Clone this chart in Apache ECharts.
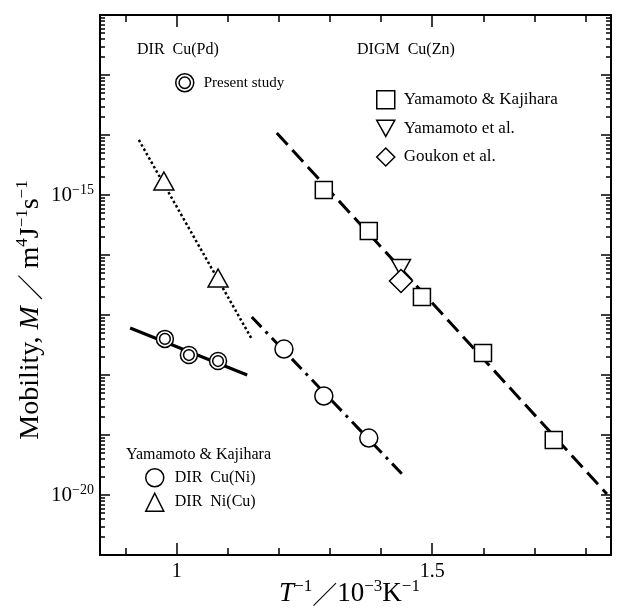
<!DOCTYPE html>
<html><head><meta charset="utf-8">
<script src="https://cdn.jsdelivr.net/npm/echarts@6/dist/echarts.min.js"></script>
<style>html,body{margin:0;padding:0;background:#fff}#c{width:633px;height:609px}</style>
</head><body><div id="c"></div>
<script>
// ---- data (x = T^-1 / 1e-3 K^-1, M = mobility / m^4 J^-1 s^-1) ----
const presentX = [0.977, 1.024, 1.081];
const presentM = [4.0e-18, 2.15e-18, 1.71e-18];
const niCuX = [0.975, 1.081];
const niCuM = [1.71e-15, 4.14e-17];
const cuNiX = [1.210, 1.288, 1.376];
const cuNiM = [2.71e-18, 4.47e-19, 8.9e-20];
const ykZnX = [1.288, 1.376, 1.480, 1.5995, 1.738];
const ykZnM = [1.21e-15, 2.51e-16, 2.0e-17, 2.33e-18, 8.26e-20];
const yetalX = [1.439];
const yetalM = [6.07e-17];
const goukonX = [1.439];
const goukonM = [3.69e-17];
// fitted lines (end points)
const fitPdX = [0.909, 1.138];
const fitPdM = [6.07e-18, 1.0e-18];
const fitNiCuX = [0.926, 1.147];
const fitNiCuM = [8.26e-15, 3.98e-18];
const fitCuNiX = [1.147, 1.443];
const fitCuNiM = [9.27e-18, 2.15e-20];
const fitZnX = [1.196, 1.842];
const fitZnM = [1.08e-14, 1.04e-20];
// ticks / labels
const xMajorTicks = [1, 1.5];
const xMinorTicks = [0.9, 1.1, 1.2, 1.3, 1.4, 1.6, 1.7, 1.8];
const xTickLabels = ['1', '1.5'];
const yLabelExps = [-15, -20];
const yDecadeMin = -21, yDecadeMax = -12;

const FONT = '"Liberation Serif","Times New Roman",serif';
const CJK = '"Noto Sans CJK JP","Liberation Serif",serif';

const toPts = (xs, ms) => xs.map((x, i) => [x, Math.log10(ms[i])]);
const yMinorTicks = [];
for (let n = yDecadeMin; n < yDecadeMax; n++) for (let k = 2; k <= 9; k++) yMinorTicks.push(n + Math.log10(k));

const axisLineS = {show: true, onZero: false, lineStyle: {color: '#000', width: 2}};
const tickS = (len, vals) => ({show: true, inside: true, length: len, customValues: vals, lineStyle: {color: '#000', width: 1.5}});
const titleRich = (fs) => ({
  it: {fontFamily: FONT, fontStyle: 'italic', fontSize: fs, lineHeight: fs + 5, color: '#000'},
  n: {fontFamily: FONT, fontSize: fs, lineHeight: fs + 5, color: '#000'},
  sl: {fontFamily: CJK, fontSize: fs - 2, lineHeight: fs + 5, color: '#000'},
  sup: {fontFamily: FONT, fontSize: Math.round(fs * 0.62), lineHeight: Math.round(fs * 0.62), verticalAlign: 'top', color: '#000'}
});

function xAx(pos, major, withLabel) {
  const a = {
    type: 'value', position: pos, min: 0.85, max: 1.85,
    axisLine: major ? axisLineS : {show: false},
    axisTick: tickS(major ? 12 : 7, major ? xMajorTicks : xMinorTicks),
    axisLabel: {show: false}, splitLine: {show: false}
  };
  if (withLabel) {
    a.axisLabel = {show: true, customValues: xMajorTicks, margin: 7, fontFamily: FONT, fontSize: 20, color: '#000',
      formatter: v => { const i = xMajorTicks.findIndex(t => Math.abs(t - v) < 1e-9); return i >= 0 ? xTickLabels[i] : ''; }};
    a.name = '{it|T}{sup|−1}{sl|／}{n|10}{sup|−3}{n|K}{sup|−1}';
    a.nameLocation = 'middle';
    a.nameGap = 23;
    a.nameMoveOverlap = false;
    a.nameTextStyle = {fontFamily: FONT, fontSize: 27, color: '#000', padding: [0, 12, 0, 0], rich: titleRich(27)};
  }
  return a;
}
function yAx(pos, major, withLabel) {
  const a = {
    type: 'value', position: pos, min: yDecadeMin, max: yDecadeMax,
    axisLine: major ? axisLineS : {show: false},
    axisTick: major ? {show: true, inside: true, length: 10, lineStyle: {color: '#000', width: 1.5}} : tickS(5, yMinorTicks),
    axisLabel: {show: false}, splitLine: {show: false}
  };
  if (major) a.interval = 1;
  if (withLabel) {
    a.axisLabel = {show: true, margin: 6, color: '#000',
      formatter: v => yLabelExps.includes(Math.round(v)) ? '{b|10}{s|−' + (-Math.round(v)) + '}' : '',
      rich: {b: {fontFamily: FONT, fontSize: 21, lineHeight: 23, color: '#000'},
             s: {fontFamily: FONT, fontSize: 14, lineHeight: 14, verticalAlign: 'top', color: '#000'}}};
    a.name = 'Mobility, {it|M}{sl| ／ }{n|m}{sup|4}{n|J}{sup|−1}{n|s}{sup|−1}';
    a.nameLocation = 'middle';
    a.nameRotate = 90;
    a.nameGap = 53;
    a.nameMoveOverlap = false;
    a.nameTextStyle = {fontFamily: FONT, fontSize: 28, color: '#000', padding: [0, 50, 0, 0], rich: titleRich(28)};
  }
  return a;
}

const mk = {color: '#fff', borderColor: '#000', borderWidth: 1.5, opacity: 1};
const dblCircle = 'path://M0,-10A10,10,0,1,1,0,10A10,10,0,1,1,0,-10ZM0,-6.3A6.3,6.3,0,1,1,0,6.3A6.3,6.3,0,1,1,0,-6.3Z';
const downTri = 'path://M0,0L20,0L10,18Z';
const fit = (name, xs, ms, type, w) => ({
  name, type: 'line', data: toPts(xs, ms), showSymbol: false, symbol: 'none', silent: true, z: 1,
  lineStyle: {color: '#000', width: w, type: type, cap: 'butt'}
});
const sc = (name, xs, ms, symbol, size, extra) => Object.assign({
  name, type: 'scatter', data: toPts(xs, ms), symbol, symbolSize: size, itemStyle: mk, z: 3
}, extra || {});

const legTxt = (fs, pad) => ({fontFamily: FONT, fontSize: fs, color: '#000', padding: [0, 0, 0, pad]});
const legIS = {borderWidth: 1.5, opacity: 1};
const option = {
  animation: false,
  backgroundColor: '#fff',
  grid: {left: 100, right: 22, top: 15, bottom: 54, containLabel: false, outerBoundsMode: 'none'},
  xAxis: [xAx('bottom', true, true), xAx('bottom', false, false), xAx('top', true, false), xAx('top', false, false)],
  yAxis: [yAx('left', true, true), yAx('left', false, false), yAx('right', true, false), yAx('right', false, false)],
  legend: [
    {data: ['Present study'], left: 170, top: 68, orient: 'vertical', itemWidth: 18, itemHeight: 18,
     textStyle: legTxt(15, 5), selectedMode: false, itemStyle: legIS},
    {data: ['Yamamoto & Kajihara', {name: 'Yamamoto et al.', icon: downTri}, 'Goukon et al.'], left: 371, top: 85, orient: 'vertical',
     itemGap: 10, itemWidth: 18, itemHeight: 18, textStyle: legTxt(17, 4), selectedMode: false, itemStyle: legIS},
    {data: ['DIR  Cu(Ni)', 'DIR  Ni(Cu)'], left: 140, top: 463, orient: 'vertical', itemGap: 5, itemWidth: 18, itemHeight: 18,
     textStyle: legTxt(16, 6), selectedMode: false, itemStyle: legIS}
  ],
  graphic: [
    {type: 'text', left: 137, top: 42, style: {text: 'DIR  Cu(Pd)', font: '16px ' + FONT, fill: '#000'}},
    {type: 'text', left: 357, top: 42, style: {text: 'DIGM  Cu(Zn)', font: '16px ' + FONT, fill: '#000'}},
    {type: 'text', left: 126, top: 447, style: {text: 'Yamamoto & Kajihara', font: '16px ' + FONT, fill: '#000'}}
  ],
  series: [
    fit('fitPd', fitPdX, fitPdM, 'solid', 3),
    fit('fitNiCu', fitNiCuX, fitNiCuM, [2.5, 2.5], 2.5),
    fit('fitCuNi', fitCuNiX, fitCuNiM, [14, 6, 3, 6], 3),
    fit('fitZn', fitZnX, fitZnM, [16, 7], 3),
    sc('Present study', presentX, presentM, dblCircle, 17),
    sc('DIR  Ni(Cu)', niCuX, niCuM, 'triangle', [20, 18]),
    sc('DIR  Cu(Ni)', cuNiX, cuNiM, 'circle', 18),
    sc('Yamamoto & Kajihara', ykZnX, ykZnM, 'rect', 17),
    sc('Yamamoto et al.', yetalX, yetalM, 'triangle', [19, 17], {symbolRotate: 180}),
    sc('Goukon et al.', goukonX, goukonM, 'diamond', [23, 23])
  ]
};
const chart = echarts.init(document.getElementById('c'), null, {renderer: 'canvas'});
chart.setOption(option);
</script></body></html>
